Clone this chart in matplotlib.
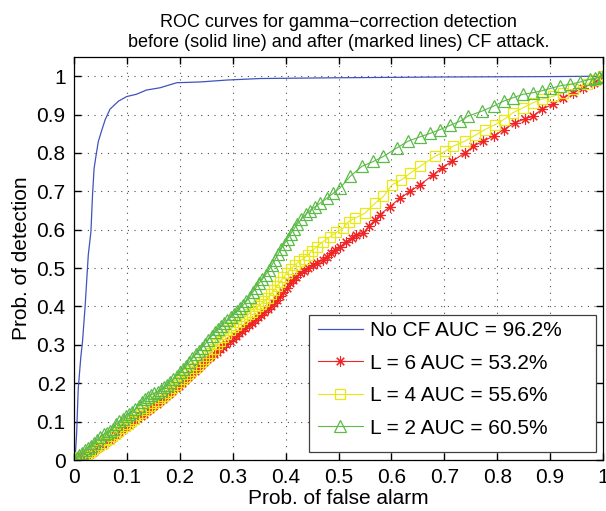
import matplotlib
matplotlib.use('Agg')
import matplotlib.pyplot as plt
from matplotlib.patches import Rectangle

plt.rcParams['font.family'] = ['Liberation Sans', 'DejaVu Sans']

# No CF (solid line)
fpr_nocf = [0, 0.002, 0.005, 0.008, 0.013, 0.016, 0.021, 0.027, 0.032, 0.035, 0.038,
            0.042, 0.046, 0.052, 0.059, 0.068, 0.084, 0.0996, 0.118, 0.137, 0.163,
            0.194, 0.238, 0.289, 0.352, 0.5, 0.7, 0.9, 1.0]
tpr_nocf = [0, 0.0, 0.07, 0.185, 0.27, 0.307, 0.40, 0.534, 0.595, 0.69, 0.76,
            0.796, 0.83, 0.857, 0.887, 0.914, 0.935, 0.947, 0.953, 0.964, 0.970,
            0.983, 0.985, 0.990, 0.994, 0.996, 0.998, 0.999, 1.0]

# L = 6
fpr_l6 = [0, 0.006, 0.012, 0.018, 0.024, 0.030, 0.036, 0.042, 0.048, 0.054, 0.060,
          0.066, 0.072, 0.078, 0.084, 0.090, 0.096, 0.102, 0.108, 0.114, 0.120,
          0.126, 0.132, 0.138, 0.144, 0.150, 0.156, 0.162, 0.168, 0.174, 0.180,
          0.186, 0.192, 0.198, 0.204, 0.210, 0.216, 0.222, 0.228, 0.234, 0.240,
          0.246, 0.252, 0.258, 0.264, 0.270, 0.276, 0.282, 0.288, 0.294, 0.300,
          0.306, 0.312, 0.318, 0.324, 0.330, 0.336, 0.342, 0.348, 0.354, 0.360,
          0.366, 0.372, 0.378, 0.384, 0.390, 0.396, 0.402, 0.408, 0.414, 0.420,
          0.427, 0.434, 0.442, 0.452, 0.460, 0.470, 0.478, 0.486, 0.494, 0.503,
          0.514, 0.525, 0.534, 0.547, 0.558, 0.569, 0.578, 0.597, 0.616, 0.635,
          0.654, 0.679, 0.695, 0.714, 0.739, 0.755, 0.774, 0.793, 0.812, 0.834,
          0.853, 0.868, 0.884, 0.906, 0.925, 0.944, 0.963, 0.982, 1.0]
tpr_l6 = [0, 0.003, 0.006, 0.008, 0.010, 0.016, 0.022, 0.028, 0.034, 0.040, 0.046,
          0.052, 0.058, 0.064, 0.071, 0.078, 0.085, 0.091, 0.097, 0.103, 0.109,
          0.115, 0.121, 0.127, 0.133, 0.140, 0.146, 0.153, 0.159, 0.166, 0.173,
          0.180, 0.187, 0.194, 0.201, 0.208, 0.215, 0.225, 0.233, 0.240, 0.247,
          0.255, 0.262, 0.269, 0.275, 0.281, 0.288, 0.295, 0.302, 0.309, 0.316,
          0.323, 0.330, 0.337, 0.344, 0.351, 0.358, 0.366, 0.373, 0.379, 0.385,
          0.393, 0.401, 0.410, 0.418, 0.427, 0.438, 0.449, 0.460, 0.469, 0.477,
          0.486, 0.493, 0.500, 0.508, 0.514, 0.522, 0.530, 0.539, 0.547, 0.556,
          0.568, 0.578, 0.586, 0.591, 0.610, 0.626, 0.639, 0.660, 0.682, 0.700,
          0.717, 0.743, 0.761, 0.778, 0.800, 0.818, 0.831, 0.844, 0.861, 0.879,
          0.889, 0.896, 0.914, 0.927, 0.944, 0.957, 0.970, 0.983, 1.0]

# L = 4
fpr_l4 = [0, 0.006, 0.012, 0.018, 0.024, 0.030, 0.036, 0.042, 0.048, 0.054, 0.060,
          0.066, 0.072, 0.078, 0.084, 0.090, 0.096, 0.102, 0.108, 0.114, 0.120,
          0.126, 0.132, 0.138, 0.144, 0.150, 0.156, 0.162, 0.168, 0.174, 0.180,
          0.186, 0.192, 0.198, 0.204, 0.210, 0.216, 0.222, 0.228, 0.234, 0.240,
          0.246, 0.252, 0.258, 0.264, 0.270, 0.276, 0.282, 0.288, 0.294, 0.300,
          0.306, 0.312, 0.318, 0.324, 0.330, 0.336, 0.342, 0.348, 0.354, 0.360,
          0.366, 0.372, 0.378, 0.384, 0.390, 0.396, 0.402, 0.410, 0.418, 0.426,
          0.434, 0.442, 0.450, 0.459, 0.470, 0.484, 0.496, 0.509, 0.519, 0.531,
          0.550, 0.569, 0.585, 0.601, 0.619, 0.636, 0.654, 0.682, 0.701, 0.717,
          0.739, 0.758, 0.777, 0.796, 0.812, 0.830, 0.849, 0.868, 0.884, 0.906,
          0.925, 0.944, 0.969, 0.985, 1.0]
tpr_l4 = [0, 0.004, 0.008, 0.011, 0.015, 0.021, 0.027, 0.033, 0.039, 0.045, 0.051,
          0.056, 0.062, 0.069, 0.076, 0.083, 0.089, 0.095, 0.101, 0.108, 0.116,
          0.123, 0.129, 0.135, 0.141, 0.148, 0.155, 0.162, 0.168, 0.174, 0.181,
          0.188, 0.196, 0.203, 0.210, 0.217, 0.224, 0.232, 0.240, 0.248, 0.256,
          0.264, 0.271, 0.279, 0.290, 0.301, 0.311, 0.320, 0.328, 0.338, 0.346,
          0.353, 0.360, 0.367, 0.374, 0.380, 0.386, 0.393, 0.400, 0.407, 0.413,
          0.422, 0.432, 0.443, 0.454, 0.465, 0.476, 0.486, 0.498, 0.509, 0.518,
          0.525, 0.534, 0.545, 0.556, 0.568, 0.582, 0.593, 0.604, 0.621, 0.630,
          0.643, 0.669, 0.687, 0.717, 0.730, 0.748, 0.765, 0.791, 0.804, 0.818,
          0.831, 0.846, 0.861, 0.874, 0.887, 0.905, 0.918, 0.931, 0.940, 0.948,
          0.957, 0.966, 0.979, 0.990, 1.0]

# L = 2
fpr_l2 = [0, 0.005, 0.010, 0.015, 0.020, 0.026, 0.032, 0.038, 0.044, 0.050, 0.056,
          0.062, 0.068, 0.074, 0.080, 0.086, 0.092, 0.098, 0.104, 0.110, 0.116,
          0.122, 0.128, 0.134, 0.140, 0.146, 0.152, 0.158, 0.164, 0.170, 0.176,
          0.182, 0.188, 0.194, 0.200, 0.206, 0.212, 0.218, 0.224, 0.230, 0.236,
          0.242, 0.248, 0.254, 0.260, 0.266, 0.272, 0.278, 0.284, 0.290, 0.296,
          0.302, 0.308, 0.314, 0.320, 0.326, 0.332, 0.338, 0.344, 0.350, 0.356,
          0.362, 0.368, 0.374, 0.380, 0.386, 0.392, 0.398, 0.404, 0.410, 0.416,
          0.422, 0.430, 0.438, 0.446, 0.455, 0.465, 0.478, 0.490, 0.503, 0.522,
          0.544, 0.566, 0.585, 0.610, 0.632, 0.654, 0.673, 0.692, 0.711, 0.730,
          0.745, 0.771, 0.793, 0.812, 0.830, 0.849, 0.868, 0.884, 0.900, 0.919,
          0.938, 0.957, 0.975, 0.985, 0.993, 1.0]
tpr_l2 = [0, 0.006, 0.012, 0.018, 0.025, 0.031, 0.036, 0.044, 0.052, 0.060, 0.067,
          0.071, 0.075, 0.082, 0.093, 0.102, 0.108, 0.115, 0.120, 0.125, 0.133,
          0.142, 0.150, 0.158, 0.165, 0.170, 0.174, 0.178, 0.183, 0.189, 0.196,
          0.204, 0.212, 0.220, 0.228, 0.236, 0.245, 0.255, 0.265, 0.275, 0.284,
          0.293, 0.302, 0.313, 0.323, 0.333, 0.341, 0.348, 0.356, 0.365, 0.373,
          0.381, 0.389, 0.396, 0.404, 0.414, 0.425, 0.437, 0.449, 0.461, 0.471,
          0.482, 0.494, 0.508, 0.522, 0.537, 0.551, 0.564, 0.577, 0.590, 0.603,
          0.614, 0.628, 0.640, 0.650, 0.659, 0.669, 0.682, 0.695, 0.709, 0.739,
          0.765, 0.778, 0.791, 0.813, 0.831, 0.842, 0.851, 0.861, 0.872, 0.883,
          0.896, 0.909, 0.922, 0.935, 0.944, 0.953, 0.957, 0.962, 0.968, 0.975,
          0.979, 0.985, 0.992, 0.995, 0.998, 1.0]

labels = ['No CF AUC = 96.2%', 'L = 6 AUC = 53.2%', 'L = 4 AUC = 55.6%', 'L = 2 AUC = 60.5%']
ticks = [0, 0.1, 0.2, 0.3, 0.4, 0.5, 0.6, 0.7, 0.8, 0.9, 1]
tick_labels = ['0', '0.1', '0.2', '0.3', '0.4', '0.5', '0.6', '0.7', '0.8', '0.9', '1']

fig = plt.figure(figsize=(6.06, 5.11), dpi=100)
ax = fig.add_axes([0.1221, 0.0998, 0.873, 0.7886])

ax.plot(fpr_nocf, tpr_nocf, '-', color='#4053bb', lw=0.9, label=labels[0])
ax.plot(fpr_l6, tpr_l6, '-', color='#f02424', lw=0.8, marker=(8, 2, 0), ms=7.5,
        mew=0.8, label=labels[1])
ax.plot(fpr_l4, tpr_l4, '-', color='#e8e812', lw=0.8, marker='s', ms=6.5,
        mfc='none', mew=0.9, label=labels[2])
ax.plot(fpr_l2, tpr_l2, '-', color='#5cba48', lw=0.8, marker='^', ms=8,
        mfc='none', mew=0.9, label=labels[3])

ax.set_xlim(0, 1)
ax.set_ylim(0, 1.05)
ax.set_xticks(ticks)
ax.set_xticklabels(tick_labels)
ax.set_yticks(ticks)
ax.set_yticklabels(tick_labels)
ax.tick_params(direction='in', top=True, right=True, length=5, width=1,
               labelsize=15, pad=6)
ax.grid(True, linestyle=(0, (1, 5)), color='0.3', lw=0.8)
for s in ax.spines.values():
    s.set_linewidth(0.9)

ax.set_xlabel('Prob. of false alarm', fontsize=15, labelpad=1)
ax.set_ylabel('Prob. of detection', fontsize=15, labelpad=4)
ax.set_title('ROC curves for gamma\u2212correction detection\n'
             'before (solid line) and after (marked lines) CF attack.',
             fontsize=13, pad=7, linespacing=1.25)

# legend box (MATLAB style, extra room on the right)
ax.add_patch(Rectangle((0.444, 0.02), 0.543, 0.34, transform=ax.transAxes,
                       facecolor='white', edgecolor='0.25', lw=0.9, zorder=4.5))
leg = ax.legend(loc='upper left', bbox_to_anchor=(0.461, 0.345), borderaxespad=0,
                fontsize=15, numpoints=1, frameon=False, borderpad=0,
                handlelength=2.16, handletextpad=0.34, labelspacing=0.65)

fig.savefig('out.png', dpi=100)
